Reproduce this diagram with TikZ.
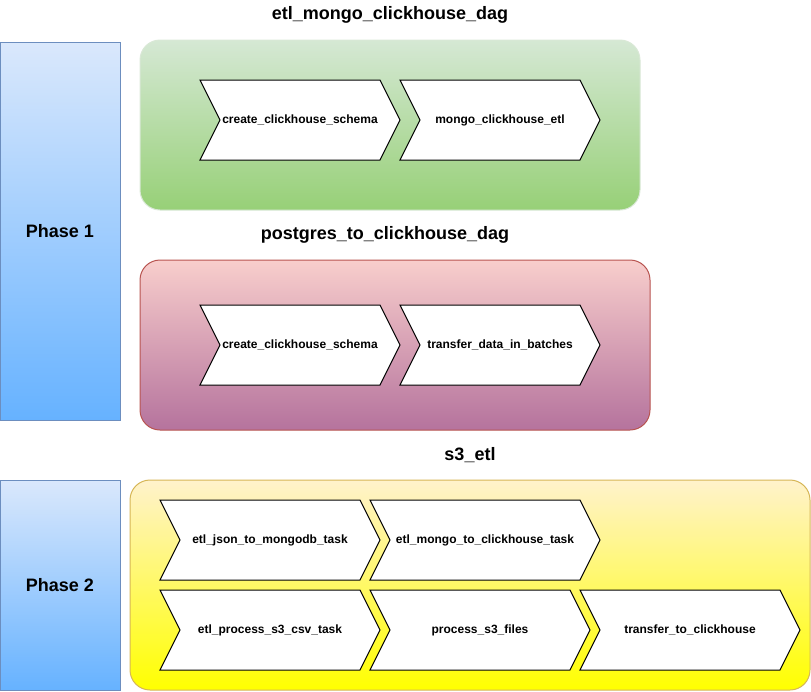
\documentclass[tikz,border=0pt]{standalone}
\usepackage{fontspec}
\setmainfont{Liberation Sans}
\definecolor{phasetop}{HTML}{DAE8FC}
\definecolor{phasebot}{HTML}{66B2FF}
\definecolor{phaseline}{HTML}{6C8EBF}
\definecolor{greentop}{HTML}{D5E8D4}
\definecolor{greenbot}{HTML}{97D077}
\definecolor{greenline}{HTML}{D9E8D6}
\definecolor{pinktop}{HTML}{F8CECC}
\definecolor{pinkbot}{HTML}{B5739D}
\definecolor{pinkline}{HTML}{B85450}
\definecolor{yellowtop}{HTML}{FFF2CC}
\definecolor{yellowbot}{HTML}{FFFF00}
\definecolor{yellowline}{HTML}{D6B656}
% one task step: name, left x, top y, width, label
\newcommand{\taskstep}[5]{%
  \draw[stepline] (#2,#3) -- ({#2+#4-20},#3) -- ({#2+#4},{#3+40})
    -- ({#2+#4-20},{#3+80}) -- (#2,{#3+80}) -- ({#2+20},{#3+40}) -- cycle;
  \node[steptext] (#1) at ({#2+#4/2},{#3+40}) {#5};
}
\tikzset{
  stepline/.style={draw=black, fill=white, line width=1pt, line join=miter},
  steptext/.style={font=\fontsize{12}{14}\selectfont\bfseries},
  bigtext/.style={font=\fontsize{18}{22}\selectfont\bfseries},
  phasebox/.style={draw=phaseline, line width=1pt, top color=phasetop, bottom color=phasebot,
    minimum width=120pt, minimum height=#1, inner sep=0pt},
  dagbox/.style={rounded corners=20pt, line width=1pt, inner sep=0pt}
}
\begin{document}
\begin{tikzpicture}[x=1pt,y=-1pt]
    \useasboundingbox (0,0) rectangle (811,691);

    % Phase columns
    \node[phasebox=378pt] (phase1) at (60,231) {};
    \node[bigtext] (phase1text) at (phase1) {Phase 1};
    \node[phasebox=210pt] (phase2) at (60,585) {};
    \node[bigtext] (phase2text) at (phase2) {Phase 2};

    % etl_mongo_clickhouse_dag
    \node[bigtext] (mongotitle) at (390,15) {etl\_mongo\_clickhouse\_dag};
    \node[dagbox, draw=greenline, top color=greentop, bottom color=greenbot,
      minimum width=500pt, minimum height=170pt] (mongodag) at (390,125) {};
    \taskstep{mongoschema}{200}{80}{200}{create\_clickhouse\_schema}
    \taskstep{mongoetl}{400}{80}{200}{mongo\_clickhouse\_etl}

    % postgres_to_clickhouse_dag
    \node[bigtext] (pgtitle) at (385,235) {postgres\_to\_clickhouse\_dag};
    \node[dagbox, draw=pinkline, top color=pinktop, bottom color=pinkbot,
      minimum width=510pt, minimum height=170pt] (pgdag) at (395,345) {};
    \taskstep{pgschema}{200}{305}{200}{create\_clickhouse\_schema}
    \taskstep{pgbatches}{400}{305}{200}{transfer\_data\_in\_batches}

    % s3_etl
    \node[bigtext] (s3title) at (470,455) {s3\_etl};
    \node[dagbox, draw=yellowline, top color=yellowtop, bottom color=yellowbot,
      minimum width=680pt, minimum height=210pt] (s3dag) at (470,585) {};
    \taskstep{jsontask}{160}{500}{220}{etl\_json\_to\_mongodb\_task}
    \taskstep{mongotask}{370}{500}{230}{etl\_mongo\_to\_clickhouse\_task}
    \taskstep{csvtask}{160}{590}{220}{etl\_process\_s3\_csv\_task}
    \taskstep{s3files}{370}{590}{220}{process\_s3\_files}
    \taskstep{transfer}{580}{590}{220}{transfer\_to\_clickhouse}
\end{tikzpicture}
\end{document}
